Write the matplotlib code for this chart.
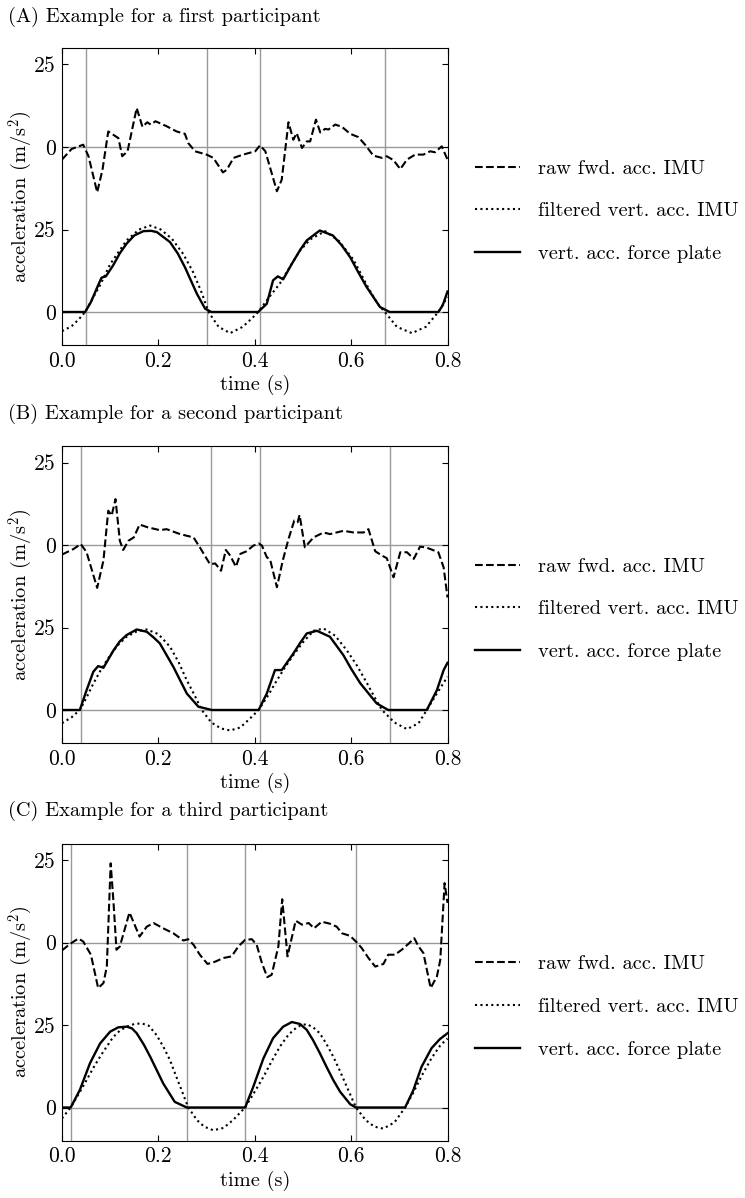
import matplotlib
matplotlib.use('Agg')
import matplotlib.pyplot as plt
import numpy as np

plt.rcParams['font.family'] = 'serif'
plt.rcParams['font.serif'] = ['cmr10']
plt.rcParams['mathtext.fontset'] = 'cm'
plt.rcParams['axes.formatter.use_mathtext'] = True
plt.rcParams['font.size'] = 14.7

# ---- (A) first participant ----
a_raw_t = [0.0, 0.02, 0.044, 0.055, 0.073, 0.084, 0.096, 0.117, 0.125, 0.136, 0.155, 0.167,
           0.177, 0.184, 0.194, 0.217, 0.238, 0.255, 0.262, 0.276, 0.30, 0.314, 0.334, 0.342,
           0.356, 0.376, 0.401, 0.411, 0.422, 0.446, 0.456, 0.47, 0.48, 0.487, 0.498, 0.508,
           0.515, 0.527, 0.536, 0.546, 0.553, 0.567, 0.581, 0.598, 0.615, 0.629, 0.646, 0.664,
           0.674, 0.688, 0.702, 0.716, 0.733, 0.75, 0.764, 0.774, 0.788, 0.80]
a_raw_v = [-3.8, -0.6, 0.7, -2.8, -13.7, -6.9, 4.7, 2.7, -2.8, -1.3, 11.8, 6.1,
           7.5, 6.8, 7.8, 6.3, 4.7, 4.0, 1.2, -1.3, -2.3, -3.3, -7.7, -6.9,
           -3.3, -2.3, -1.3, 0.5, -1.3, -13.4, -9.9, 7.5, 2.2, 4.2, -0.3, 1.7,
           1.7, 8.3, 4.4, 5.5, 5.3, 6.8, 6.1, 4.0, 3.0, 0.7, -2.6, -3.3,
           -2.8, -4.0, -6.7, -3.8, -2.3, -2.3, -1.3, -1.6, 0.2, -3.8]
a_filt_t = [0.0, 0.02, 0.035, 0.048, 0.065, 0.079, 0.1, 0.134, 0.16, 0.183, 0.205, 0.228,
            0.252, 0.272, 0.29, 0.304, 0.325, 0.349, 0.375, 0.395, 0.407, 0.43, 0.452, 0.475,
            0.494, 0.515, 0.546, 0.575, 0.605, 0.635, 0.655, 0.67, 0.695, 0.726, 0.755,
            0.781, 0.8]
a_filt_v = [-5.8, -4.3, -2.2, 0.0, 4.5, 8.1, 14.5, 21.7, 25.0, 26.2, 25.0, 22.2,
            17.5, 12.1, 5.8, 0.0, -4.5, -6.4, -4.5, -1.8, 0.0, 4.5, 8.6, 14.2,
            18.6, 22.0, 24.5, 21.5, 15.8, 7.5, 2.5, 0.0, -4.5, -6.4, -4.5,
            0.0, 4.6]
a_fp_t = [0.0, 0.048, 0.06, 0.072, 0.082, 0.091, 0.106, 0.12, 0.134, 0.15, 0.169, 0.185,
          0.197, 0.224, 0.24, 0.255, 0.28, 0.297, 0.31, 0.407, 0.425, 0.438, 0.448, 0.459,
          0.477, 0.495, 0.508, 0.535, 0.562, 0.58, 0.598, 0.615, 0.632, 0.66, 0.68, 0.781,
          0.79, 0.8]
a_fp_v = [0.0, 0.0, 3.0, 7.1, 10.4, 10.8, 14.1, 17.8, 20.7, 23.2, 24.5, 24.6,
          24.2, 21.2, 17.8, 13.6, 5.5, 1.0, 0.0, 0.0, 2.5, 9.6, 10.8, 9.9,
          14.6, 19.0, 21.7, 24.7, 23.2, 20.3, 16.6, 12.0, 7.6, 1.5, 0.0, 0.0,
          2.0, 6.2]
a_events = [0.05, 0.30, 0.41, 0.67]

# ---- (B) second participant ----
b_raw_t = [0.0, 0.024, 0.039, 0.051, 0.073, 0.086, 0.096, 0.103, 0.111, 0.12, 0.127, 0.138,
           0.149, 0.161, 0.177, 0.203, 0.217, 0.245, 0.273, 0.286, 0.307, 0.318, 0.33, 0.34,
           0.349, 0.361, 0.37, 0.383, 0.397, 0.408, 0.415, 0.425, 0.432, 0.446, 0.458, 0.47,
           0.482, 0.489, 0.493, 0.504, 0.522, 0.543, 0.556, 0.584, 0.605, 0.626, 0.636, 0.65,
           0.664, 0.674, 0.688, 0.702, 0.716, 0.73, 0.743, 0.754, 0.764, 0.781, 0.792, 0.80]
b_raw_v = [-2.9, -1.2, 0.3, -2.2, -13.0, -4.7, 10.4, 8.9, 13.9, 1.3, -1.5, 1.3,
           2.3, 6.2, 5.4, 4.5, 4.8, 3.3, 2.3, -0.7, -5.8, -5.6, -7.8, -1.5,
           -3.2, -6.6, -2.7, -1.9, -0.2, 0.5, -0.2, -3.7, -4.5, -12.8, -4.8, 1.8,
           7.4, 6.9, 9.1, -0.7, 2.3, 3.8, 3.3, 4.3, 3.8, 3.8, 4.8, -1.9,
           -3.2, -4.0, -9.8, -2.2, -2.2, -4.2, -0.5, -0.7, -1.2, -2.2, -6.8, -15.9]
b_filt_t = [0.0, 0.02, 0.037, 0.05, 0.065, 0.082, 0.1, 0.117, 0.134, 0.155, 0.176, 0.2,
            0.224, 0.242, 0.259, 0.275, 0.29, 0.31, 0.33, 0.349, 0.37, 0.39, 0.408, 0.428,
            0.446, 0.463, 0.48, 0.5, 0.522, 0.543, 0.567, 0.591, 0.612, 0.633, 0.65, 0.664,
            0.69, 0.716, 0.74, 0.757, 0.778, 0.8]
b_filt_v = [-4.0, -2.2, 0.0, 3.5, 8.0, 12.5, 16.6, 19.8, 22.2, 23.8, 24.4, 23.0,
            19.2, 14.5, 9.0, 4.5, 0.0, -3.8, -5.6, -6.2, -5.3, -2.6, 0.0, 4.5,
            9.0, 13.0, 16.6, 20.5, 24.0, 24.7, 22.5, 18.1, 13.5, 8.1, 3.5, 0.0,
            -3.8, -5.8, -4.0, 0.0, 5.0, 10.1]
b_fp_t = [0.0, 0.037, 0.051, 0.065, 0.075, 0.086, 0.107, 0.12, 0.134, 0.155, 0.176, 0.19,
          0.203, 0.231, 0.259, 0.283, 0.311, 0.408, 0.425, 0.442, 0.456, 0.48, 0.495, 0.508,
          0.529, 0.556, 0.584, 0.6, 0.619, 0.653, 0.677, 0.757, 0.778, 0.792, 0.80]
b_fp_v = [0.0, 0.0, 6.0, 11.6, 13.3, 12.8, 18.1, 20.8, 22.7, 24.4, 23.7, 22.0,
          20.2, 13.1, 5.0, 1.0, 0.0, 0.0, 5.0, 12.1, 12.1, 17.1, 20.5, 23.2,
          24.0, 22.2, 16.6, 12.5, 8.1, 2.0, 0.0, 0.0, 6.0, 12.1, 14.3]
b_events = [0.04, 0.31, 0.41, 0.68]

# ---- (C) third participant ----
c_raw_t = [0.0, 0.017, 0.034, 0.044, 0.06, 0.075, 0.086, 0.093, 0.101, 0.107, 0.113, 0.12,
           0.14, 0.161, 0.176, 0.19, 0.21, 0.231, 0.252, 0.262, 0.273, 0.286, 0.302, 0.318,
           0.335, 0.352, 0.366, 0.38, 0.394, 0.404, 0.415, 0.426, 0.435, 0.449, 0.457, 0.468,
           0.475, 0.485, 0.498, 0.512, 0.523, 0.539, 0.556, 0.57, 0.581, 0.598, 0.612, 0.622,
           0.636, 0.65, 0.667, 0.677, 0.691, 0.705, 0.719, 0.731, 0.74, 0.75, 0.765, 0.778,
           0.785, 0.794, 0.80]
c_raw_v = [-2.4, -0.4, 1.2, 0.3, -3.7, -13.8, -12.3, -7.3, 24.0, 11.9, -2.2, -1.2,
           9.1, 1.8, 4.8, 5.9, 4.3, 2.8, 0.6, 1.0, -0.7, -3.7, -6.5, -5.8,
           -4.7, -4.2, -1.2, 0.8, 1.0, -0.7, -6.3, -10.5, -9.8, -1.2, 13.1, -4.2,
           0.3, 6.6, 5.4, 5.9, 4.3, 6.3, 5.7, 4.8, 2.8, 2.0, 0.0, -1.7,
           -4.7, -7.3, -6.5, -3.7, -3.7, -2.2, -0.4, 1.3, -1.2, -3.2, -13.8, -10.3,
           -5.3, 18.0, 12.0]
c_filt_t = [0.0, 0.018, 0.035, 0.051, 0.065, 0.079, 0.093, 0.106, 0.12, 0.134, 0.15, 0.165,
            0.18, 0.196, 0.21, 0.224, 0.236, 0.248, 0.262, 0.28, 0.295, 0.314, 0.335, 0.355,
            0.38, 0.4, 0.418, 0.435, 0.452, 0.466, 0.48, 0.494, 0.508, 0.522, 0.535, 0.549,
            0.563, 0.577, 0.591, 0.61, 0.63, 0.648, 0.667, 0.69, 0.712, 0.729, 0.746, 0.767,
            0.785, 0.8]
c_filt_v = [-3.3, 0.0, 4.2, 8.3, 12.0, 15.4, 18.5, 21.3, 23.3, 24.5, 25.3, 25.5,
            24.8, 22.0, 18.5, 14.4, 9.8, 5.3, 0.0, -3.8, -5.8, -6.9, -6.2, -3.8,
            0.0, 4.8, 9.3, 14.0, 18.4, 21.3, 23.5, 24.8, 25.3, 24.2, 22.5, 19.2,
            15.4, 11.0, 6.3, 0.0, -3.8, -5.8, -6.4, -4.5, 0.0, 4.5, 9.5, 15.0,
            18.8, 20.9]
c_fp_t = [0.0, 0.018, 0.037, 0.058, 0.079, 0.1, 0.117, 0.134, 0.145, 0.155, 0.17, 0.183,
          0.197, 0.21, 0.234, 0.259, 0.38, 0.397, 0.418, 0.438, 0.459, 0.477, 0.494, 0.508,
          0.521, 0.535, 0.549, 0.563, 0.577, 0.598, 0.61, 0.712, 0.729, 0.746, 0.767, 0.784,
          0.80]
c_fp_v = [0.0, 0.0, 5.3, 13.4, 19.4, 23.0, 24.3, 24.5, 24.0, 22.5, 19.0, 15.4,
          11.2, 7.3, 1.7, 0.0, 0.0, 6.3, 14.9, 21.0, 24.5, 25.9, 25.3, 23.5,
          20.4, 16.5, 12.3, 8.3, 4.8, 1.0, 0.0, 0.0, 5.2, 12.3, 18.0, 20.7,
          22.5]
c_events = [0.018, 0.26, 0.38, 0.611]

titles = ['(A) Example for a first participant',
          '(B) Example for a second participant',
          '(C) Example for a third participant']
labels = ['raw fwd. acc. IMU', 'filtered vert. acc. IMU', 'vert. acc. force plate']
ytick_vals = [0, 25, 50, 75]
ytick_labels = ['0', '25', '0', '25']
offset = 50

panels = [
    (a_raw_t, a_raw_v, a_filt_t, a_filt_v, a_fp_t, a_fp_v, a_events),
    (b_raw_t, b_raw_v, b_filt_t, b_filt_v, b_fp_t, b_fp_v, b_events),
    (c_raw_t, c_raw_v, c_filt_t, c_filt_v, c_fp_t, c_fp_v, c_events),
]

W, H = 745, 1198
fig = plt.figure(figsize=(W / 100, H / 100), dpi=100)
tops = [48, 446, 843.5]
title_y = [17, 414, 811]
ax_h = 297
left, right = 62, 447.5

for i, (rt, rv, ft, fv, pt, pv, ev) in enumerate(panels):
    ax = fig.add_axes([left / W, 1 - (tops[i] + ax_h) / H, (right - left) / W, ax_h / H])
    grey = '#999999'
    for e in ev:
        ax.axvline(e, color=grey, lw=1.0, zorder=1)
    ax.axhline(0, color=grey, lw=1.0, zorder=1)
    ax.axhline(offset, color=grey, lw=1.0, zorder=1)
    ax.plot(rt, np.array(rv) + offset, color='k', ls='--', lw=1.5, label=labels[0])
    ax.plot(ft, fv, color='k', ls=(0, (1, 1.6)), lw=1.5, label=labels[1])
    ax.plot(pt, pv, color='k', ls='-', lw=1.7, label=labels[2])
    ax.set_xlim(0, 0.8)
    ax.set_ylim(-10, 80)
    ax.set_xticks([0.0, 0.2, 0.4, 0.6, 0.8])
    ax.set_xticklabels(['0.0', '0.2', '0.4', '0.6', '0.8'])
    ax.set_yticks(ytick_vals)
    ax.set_yticklabels(ytick_labels)
    ax.tick_params(direction='in', top=True, right=True, length=4, labelsize=15.5, pad=4.5)
    ax.set_xlabel('time (s)', labelpad=3)
    ax.set_ylabel('acceleration (m/s$^2$)', labelpad=-1)
    fig.text(8 / W, 1 - title_y[i] / H, titles[i], ha='left', va='center')
    ax.legend(loc='center left', bbox_to_anchor=(1.051, 0.45), frameon=False,
              handlelength=2.2, handletextpad=0.88, labelspacing=1.2, borderaxespad=0)

fig.savefig('out.png', dpi=100)
